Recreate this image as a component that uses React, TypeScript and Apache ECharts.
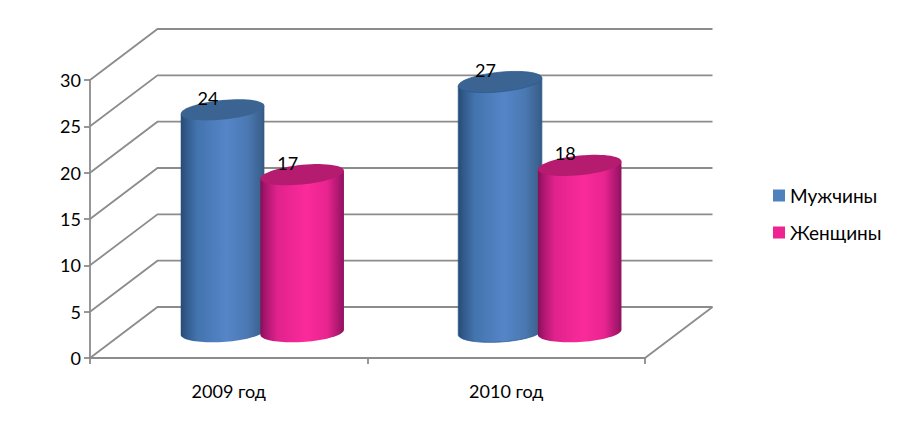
import React, { useEffect, useRef } from "react";
import * as echarts from "echarts";

const categories = ["2009 год", "2010 год"];
const men = [24, 27];
const women = [17, 18];
const wallTicks = [0, 5, 10, 15, 20, 25, 30];
const seriesNames = ["Мужчины", "Женщины"];

const FONT = "Lato, Carlito, Calibri, sans-serif";
const GREY = "#8c8c8c";
const LINE = 1.8;
const DX = 67.5; // depth of the wall, in pixels
const DY = 51;
const CX = 33.6; // depth of the cylinders' axis
const CY = 25.8;
const HALF = 41.8; // cylinder half width
const OFFSET = 39.8; // distance of a cylinder from the band centre
const B = 9.8; // ellipse half height
const LABEL_DX = -14.5;
const LABEL_DY = -12;

function ellipsePoints(cx: number, cy: number, s: number, from: number, to: number, n = 40) {
  const pts: number[][] = [];
  for (let k = 0; k <= n; k++) {
    const t = from + ((to - from) * k) / n;
    pts.push([cx + HALF * Math.cos(t), cy + B * Math.sin(t) - s * Math.cos(t)]);
  }
  return pts;
}

function gradient(stops: [number, string][]) {
  return new echarts.graphic.LinearGradient(
    0, 0, 1, 0,
    stops.map(([offset, color]) => ({ offset, color }))
  );
}

const blueSide: [number, string][] = [
  [0, "#264a72"], [0.06, "#32598a"], [0.2, "#4474ae"], [0.55, "#5585c7"], [0.8, "#4a78b2"], [0.95, "#3c6492"], [1, "#35587f"],
];
const pinkSide: [number, string][] = [
  [0, "#860f58"], [0.06, "#a8166e"], [0.2, "#e0228c"], [0.55, "#fb2a9a"], [0.8, "#e8248f"], [0.95, "#a6166c"], [1, "#8e1160"],
];

function cylinderItem(direction: number, side: [number, string][], cap: string, outlineIndex: number, outline: string) {
  return (params: any, api: any) => {
    const i = api.value(0);
    const v = api.value(1);
    const top = api.coord([i, v]);
    const base = api.coord([i, 0]);
    const cx = top[0] + CX + direction * OFFSET;
    const yTop = top[1] - CY;
    const yBase = base[1] - CY;
    const outlined = params.dataIndex === outlineIndex;
    const bodyPts = [
      ...ellipsePoints(cx, yTop, 4, Math.PI, 2 * Math.PI, 1).slice(0, 2),
      ...ellipsePoints(cx, yBase, 2.5, 0, Math.PI),
    ];
    return {
      type: "group",
      children: [
        {
          type: "polygon",
          shape: { points: bodyPts },
          style: { fill: gradient(side), stroke: outlined ? outline : undefined, lineWidth: outlined ? 0.8 : 0 },
        },
        {
          type: "polygon",
          shape: { points: ellipsePoints(cx, yTop, 4, 0, 2 * Math.PI, 60) },
          style: { fill: cap, stroke: outlined ? outline : undefined, lineWidth: outlined ? 0.8 : 0 },
        },
        {
          type: "text",
          style: {
            x: cx + LABEL_DX,
            y: yTop + LABEL_DY,
            text: String(v),
            fill: "#000",
            font: `18px ${FONT}`,
            align: "center",
            verticalAlign: "middle",
          },
        },
      ],
    };
  };
}

function wallItem(params: any, api: any) {
  const v = api.value(1);
  const rect = params.coordSys;
  const [, y] = api.coord([0, v]);
  const left = rect.x;
  const right = rect.x + rect.width;
  const style = { stroke: GREY, lineWidth: LINE, fill: "none" };
  const children: any[] = [
    {
      type: "polyline",
      shape: { points: [[left, y], [left + DX, y - DY], [right + DX, y - DY]] },
      style,
    },
  ];
  if (v === 0) {
    children.push({
      type: "polyline",
      shape: { points: [[right, y], [right + DX, y - DY]] },
      style,
    });
  }
  return { type: "group", children };
}

export default function App() {
  const ref = useRef<HTMLDivElement>(null);
  useEffect(() => {
    document.body.style.margin = "0";
    const chart = echarts.init(ref.current!, undefined, { renderer: "svg" });
    chart.setOption({
      animation: false,
      backgroundColor: "#ffffff",
      grid: { left: 90, top: 80, width: 555, height: 278, containLabel: false },
      legend: {
        data: seriesNames,
        orient: "vertical",
        left: 768,
        top: 180,
        itemWidth: 12,
        itemHeight: 12,
        itemGap: 16,
        icon: "rect",
        textStyle: { fontFamily: FONT, fontSize: 19, color: "#000", lineHeight: 21 },
        formatter: (n: string) => n,
      },
      xAxis: {
        type: "category",
        data: categories,
        boundaryGap: true,
        axisLine: { lineStyle: { color: GREY, width: LINE } },
        axisTick: { show: true, length: 6, lineStyle: { color: GREY, width: LINE } },
        axisLabel: { color: "#000", fontFamily: FONT, fontSize: 18, margin: 24 },
        splitLine: { show: false },
      },
      yAxis: {
        type: "value",
        min: 0,
        max: 30,
        interval: 5,
        axisLine: { show: true, lineStyle: { color: GREY, width: LINE } },
        axisTick: { show: true, length: 6, lineStyle: { color: GREY, width: LINE } },
        axisLabel: { color: "#000", fontFamily: FONT, fontSize: 18, margin: 9 },
        splitLine: { show: false },
      },
      series: [
        {
          type: "custom",
          name: "wall",
          silent: true,
          clip: false,
          z: 1,
          data: wallTicks.map((v) => [0, v]),
          encode: { x: 0, y: 1 },
          renderItem: wallItem,
        },
        {
          type: "custom",
          name: seriesNames[0],
          clip: false,
          z: 3,
          itemStyle: { color: "#4f81bd" },
          data: men.map((v, i) => [i, v]),
          encode: { x: 0, y: 1 },
          renderItem: cylinderItem(-1, blueSide, "#3c6493", 1, "#2a5a96"),
        },
        {
          type: "custom",
          name: seriesNames[1],
          clip: false,
          z: 4,
          itemStyle: { color: "#ee2492" },
          data: women.map((v, i) => [i, v]),
          encode: { x: 0, y: 1 },
          renderItem: cylinderItem(1, pinkSide, "#b51c70", -1, "#b51c70"),
        },
      ],
    });
    return () => chart.dispose();
  }, []);
  return <div ref={ref} style={{ width: 901, height: 429 }} />;
}
